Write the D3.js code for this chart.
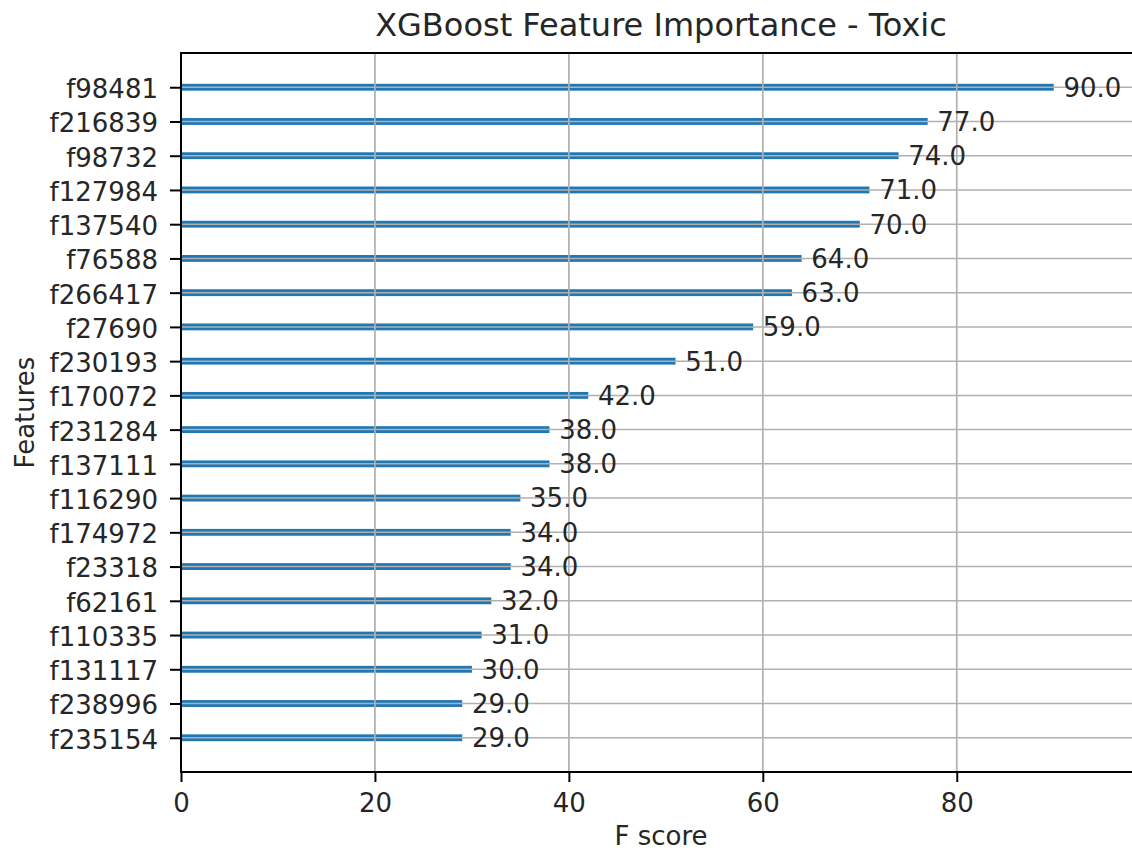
<!DOCTYPE html>
<html>
<head>
<meta charset="utf-8">
<script src="https://cdn.jsdelivr.net/npm/d3@7"></script>
<style>
  body { margin: 0; background: #fff; }
  svg { display: block; font-family: "DejaVu Sans", sans-serif; }
</style>
</head>
<body>
<svg id="chart" width="1132" height="851"></svg>
<script>
const features = ["f98481","f216839","f98732","f127984","f137540","f76588","f266417","f27690","f230193","f170072","f231284","f137111","f116290","f174972","f23318","f62161","f110335","f131117","f238996","f235154"];
const scores = [90,77,74,71,70,64,63,59,51,42,38,38,35,34,34,32,31,30,29,29];
const xTicks = [0,20,40,60,80];
const titleText = "XGBoost Feature Importance - Toxic";
const xLabel = "F score";
const yLabel = "Features";

(function () {
const svg = d3.select("#chart");
const pLeft = 181, pTop = 53, pBottom = 772;
const xMax = d3.max(scores) * 1.1;
const x = d3.scaleLinear().domain([0, xMax]).range([pLeft, pLeft + 960]);
const n = features.length;
const y = d3.scaleLinear().domain([-1, n]).range([pBottom, pTop]);
const pos = (i) => n - 1 - i;
const barH = y(0) - y(0.2);
const grid = "#b0b0b0";
const txt = "#262626";
const fs = 26;

svg.append("g").selectAll("rect").data(scores).join("rect")
  .attr("x", x(0))
  .attr("y", (d, i) => y(pos(i) + 0.1))
  .attr("width", d => x(d) - x(0))
  .attr("height", barH)
  .attr("fill", "#1f77b4");

const gg = svg.append("g");
gg.selectAll("line.gx").data(xTicks).join("line")
  .attr("x1", d => x(d)).attr("x2", d => x(d))
  .attr("y1", pTop).attr("y2", pBottom)
  .attr("stroke", grid).attr("stroke-width", 1.7);
gg.selectAll("line.gy").data(features).join("line")
  .attr("x1", pLeft).attr("x2", 1132)
  .attr("y1", (d, i) => y(pos(i))).attr("y2", (d, i) => y(pos(i)))
  .attr("stroke", grid).attr("stroke-width", 1.5);

svg.append("g").selectAll("text").data(scores).join("text")
  .attr("x", d => x(d + 1))
  .attr("y", (d, i) => y(pos(i)))
  .attr("dy", "0.36em")
  .attr("font-size", fs)
  .attr("fill", txt)
  .text(d => d.toFixed(1));

const xAxis = d3.axisBottom(x).tickValues(xTicks).tickFormat(d3.format("d")).tickSize(10).tickPadding(12);
const gx = svg.append("g").attr("transform", `translate(0,${pBottom})`).call(xAxis);
gx.select(".domain").remove();
gx.selectAll("line").attr("stroke", "#000").attr("stroke-width", 2);
gx.selectAll("text").attr("font-size", fs).attr("fill", txt).attr("font-family", "DejaVu Sans");

const yAxis = d3.axisLeft(d3.scalePoint().domain(features).range([y(n - 1), y(0)])).tickSize(11).tickPadding(12);
const gy = svg.append("g").attr("transform", `translate(${pLeft},0)`).call(yAxis);
gy.select(".domain").remove();
gy.selectAll("line").attr("stroke", "#000").attr("stroke-width", 2);
gy.selectAll("text").attr("font-size", fs).attr("fill", txt).attr("font-family", "DejaVu Sans").attr("dy", "0.4em");

const spine = (x1, y1, x2, y2) => svg.append("line").attr("x1", x1).attr("x2", x2).attr("y1", y1).attr("y2", y2).attr("stroke", "#000").attr("stroke-width", 2);
spine(pLeft, pTop - 1, pLeft, pBottom + 1);
spine(pLeft, pTop, 1132, pTop);
spine(pLeft, pBottom, 1132, pBottom);

svg.append("text").attr("x", pLeft + 480).attr("y", 36)
  .attr("text-anchor", "middle").attr("font-size", 32).attr("fill", txt).text(titleText);
svg.append("text").attr("x", pLeft + 480).attr("y", 845)
  .attr("text-anchor", "middle").attr("font-size", fs).attr("fill", txt).text(xLabel);
svg.append("text").attr("transform", `translate(34,${(pTop + pBottom) / 2}) rotate(-90)`)
  .attr("text-anchor", "middle").attr("font-size", fs).attr("fill", txt).text(yLabel);
})();
</script>
</body>
</html>
